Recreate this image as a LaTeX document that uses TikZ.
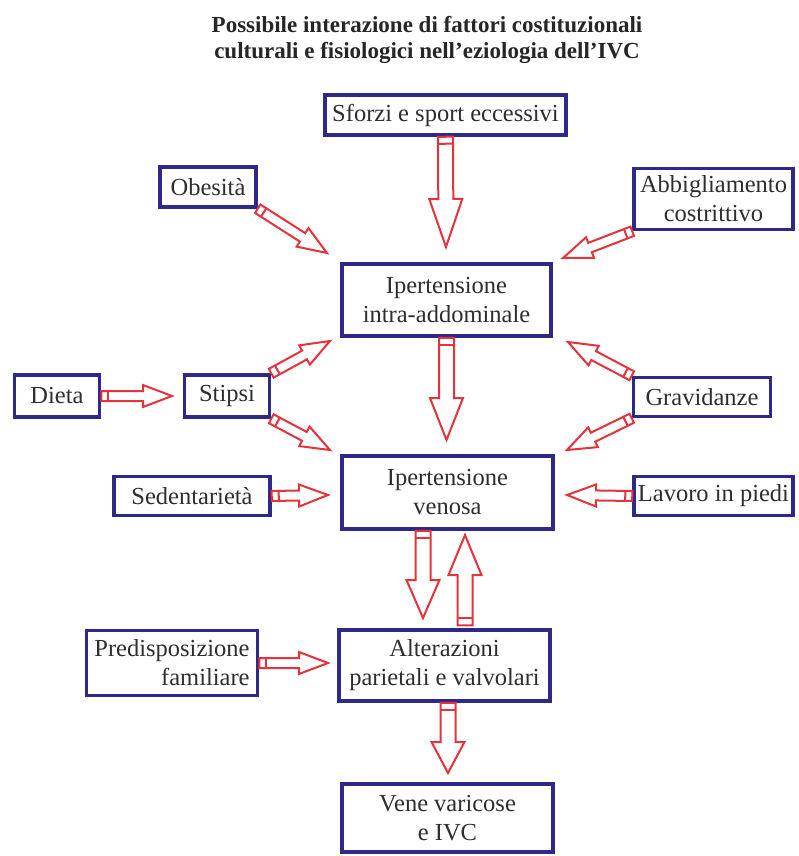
\documentclass[tikz,border=0pt]{standalone}
\usepackage{fontspec}
\setmainfont{Liberation Serif}
\usepackage{tikz}
\usetikzlibrary{calc}
\usetikzlibrary{positioning}
\definecolor{boxblue}{HTML}{2E2888}
\definecolor{arrowred}{HTML}{E5333B}
\definecolor{textgray}{HTML}{2E2E2E}

% hollow arrow: from, to, half shaft, half head, head length
\newcommand{\hollowarrow}[5]{%
	\coordinate (HB) at ($(#2)!#5!(#1)$);
	\coordinate (TB) at ($(#1)!7pt!(#2)$);
	\draw[MyArrows] ($(#1)!#3!-90:(#2)$) -- ($(HB)!#3!90:(#1)$) -- ($(HB)!#4!90:(#1)$) -- (#2)
		-- ($(HB)!#4!-90:(#1)$) -- ($(HB)!#3!-90:(#1)$) -- ($(#1)!#3!90:(#2)$) -- cycle;
	\draw[MyArrows] ($(TB)!#3!-90:(#2)$) -- ($(TB)!#3!90:(#2)$);
}
\newcommand{\bigarrow}[3][40pt]{\hollowarrow{#2}{#3}{7.5pt}{16.5pt}{#1}}
\newcommand{\smallarrow}[2]{\hollowarrow{#1}{#2}{5pt}{11pt}{29pt}}

\begin{document}
\begin{tikzpicture}[
		x=1pt, y=-1pt,
		MyBoxes/.style={draw=boxblue, line width=3.5pt, fill=white, inner sep=0pt, align=center,
			text=textgray, font=\fontsize{24.5}{29}\selectfont},
		MyArrows/.style={draw=arrowred, line width=2pt, fill=white, line join=miter},
		MyTitle/.style={font=\bfseries\fontsize{23}{26}\selectfont, align=center, text=black!85}
		]

		\useasboundingbox (0,0) rectangle (798,856);

		\node[MyTitle] (title) at (427,40) {Possibile interazione di fattori costituzionali\\culturali e fisiologici nell’eziologia dell’IVC};

		% boxes
		\node[MyBoxes, minimum width=241pt, minimum height=40pt] (sforzi) at (445.5,115) {Sforzi e sport eccessivi};
		\node[MyBoxes, minimum width=96pt, minimum height=40pt] (obesita) at (208,187) {Obesità};
		\node[MyBoxes, minimum width=159pt, minimum height=61pt] (abbigl) at (713.5,199) {Abbigliamento\\costrittivo};
		\node[MyBoxes, minimum width=209pt, minimum height=72pt] (intra) at (446.5,300) {Ipertensione\\intra-addominale};
		\node[MyBoxes, minimum width=85pt, minimum height=42pt] (dieta) at (57,396) {Dieta};
		\node[MyBoxes, minimum width=85pt, minimum height=42pt] (stipsi) at (227,396) {Stipsi};
		\node[MyBoxes, minimum width=137pt, minimum height=39pt] (gravid) at (702,397) {Gravidanze};
		\node[MyBoxes, minimum width=211pt, minimum height=73pt] (venosa) at (447.5,492.5) {Ipertensione\\venosa};
		\node[MyBoxes, minimum width=156pt, minimum height=39pt] (sedent) at (192,496) {Sedentarietà};
		\node[MyBoxes, minimum width=159pt, minimum height=39pt] (lavoro) at (713.5,496) {Lavoro in piedi};
		\node[MyBoxes, minimum width=171pt, minimum height=65pt, align=right] (predisp) at (172,663) {Predisposizione\\familiare};
		\node[MyBoxes, minimum width=211pt, minimum height=71pt] (alteraz) at (444.5,665.5) {Alterazioni\\parietali e valvolari};
		\node[MyBoxes, minimum width=211pt, minimum height=68pt] (vene) at (447.5,818) {Vene varicose\\e IVC};

		% arrow tips
		\coordinate (T1) at (446,247);
		\coordinate (T2) at (327,253);
		\coordinate (T3) at (563,258);
		\coordinate (T4) at (330,341);
		\coordinate (T5) at (330,450);
		\coordinate (T6) at (172,396);
		\coordinate (T7) at (568,342);
		\coordinate (T8) at (567,450);
		\coordinate (T9) at (446.5,440);
		\coordinate (T10) at (328,495);
		\coordinate (T11) at (567,495);
		\coordinate (T12) at (423,618);
		\coordinate (T13) at (465,535);
		\coordinate (T14) at (448,773);
		\coordinate (T15) at (328,663);

		% arrow tails off the box centres
		\coordinate (S12) at ($(venosa.south)+(-24.5,0)$);
		\coordinate (S13) at ($(alteraz.north)+(20.5,-3)$);
		\coordinate (S14) at ($(alteraz.south)+(3.5,0)$);

		\bigarrow[48pt]{sforzi.south}{T1}
		\smallarrow{obesita.south east}{T2}
		\smallarrow{abbigl.south west}{T3}
		\smallarrow{stipsi.north east}{T4}
		\smallarrow{stipsi.south east}{T5}
		\smallarrow{dieta.east}{T6}
		\smallarrow{gravid.north west}{T7}
		\smallarrow{gravid.south west}{T8}
		\bigarrow[42pt]{intra.south}{T9}
		\smallarrow{sedent.east}{T10}
		\smallarrow{lavoro.west}{T11}
		\bigarrow[38pt]{S12}{T12}
		\bigarrow{S13}{T13}
		\bigarrow[31pt]{S14}{T14}
		\smallarrow{predisp.east}{T15}

\end{tikzpicture}
\end{document}
